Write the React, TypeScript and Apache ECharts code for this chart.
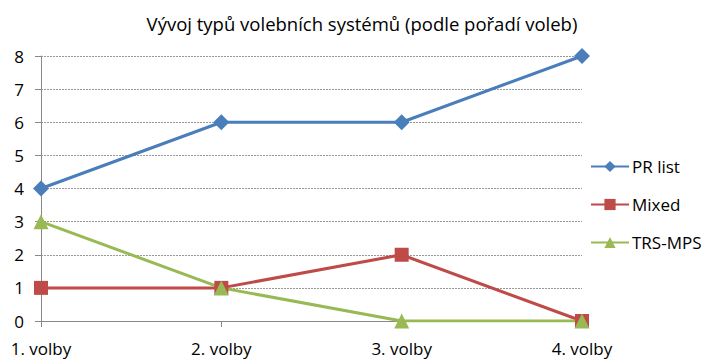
import React, { useEffect, useRef } from "react";
import * as echarts from "echarts";

const categories = ["1. volby", "2. volby", "3. volby", "4. volby"];
const prList = [4, 6, 6, 8];
const mixed = [1, 1, 2, 0];
const trsMps = [3, 1, 0, 0];
const yTicks = [0, 1, 2, 3, 4, 5, 6, 7, 8];

const FONT = "'Open Sans', 'Noto Sans', sans-serif";

export default function App() {
  const ref = useRef<HTMLDivElement>(null);
  useEffect(() => {
    if (!ref.current) return;
    const chart = echarts.init(ref.current, null, { renderer: "svg" });
    chart.setOption({
      animation: false,
      backgroundColor: "#ffffff",
      title: {
        text: "Vývoj typů volebních systémů (podle pořadí voleb)",
        left: 357,
        top: 9,
        textAlign: "center",
        textStyle: { fontFamily: FONT, fontSize: 18.5, fontWeight: "normal", color: "#000" },
      },
      legend: {
        orient: "vertical",
        left: 585,
        top: 153,
        itemGap: 21,
        itemWidth: 38,
        itemHeight: 14,
        textStyle: { fontFamily: FONT, fontSize: 17, color: "#000", padding: [0, 0, 0, -2] },
        data: ["PR list", "Mixed", "TRS-MPS"],
      },
      grid: { left: 41, right: 134, top: 56, bottom: 43 },
      xAxis: {
        type: "category",
        data: categories,
        boundaryGap: false,
        axisLine: { lineStyle: { color: "#888", width: 1 } },
        axisTick: { show: true, alignWithLabel: true, length: 6, lineStyle: { color: "#888" } },
        axisLabel: { fontFamily: FONT, fontSize: 17, color: "#000", margin: 19 },
      },
      yAxis: {
        type: "value",
        min: yTicks[0],
        max: yTicks[yTicks.length - 1],
        interval: 1,
        axisLine: { show: true, lineStyle: { color: "#888", width: 1 } },
        axisTick: { show: true, length: 6, lineStyle: { color: "#888" } },
        axisLabel: { fontFamily: FONT, fontSize: 17, color: "#000", margin: 17 },
        splitLine: { show: true, lineStyle: { color: "#999", type: [2, 1], width: 1 } },
      },
      series: [
        {
          name: "PR list",
          type: "line",
          data: prList,
          symbol: "diamond",
          symbolSize: 16,
          color: "#4A7EBB",
          lineStyle: { width: 3, color: "#4A7EBB" },
          itemStyle: { color: "#4A7EBB" },
        },
        {
          name: "Mixed",
          type: "line",
          data: mixed,
          symbol: "rect",
          symbolSize: 14,
          color: "#BE4B48",
          lineStyle: { width: 3, color: "#BE4B48" },
          itemStyle: { color: "#BE4B48" },
        },
        {
          name: "TRS-MPS",
          type: "line",
          data: trsMps,
          symbol: "triangle",
          symbolSize: 15,
          color: "#98B954",
          lineStyle: { width: 3, color: "#98B954" },
          itemStyle: { color: "#98B954" },
        },
      ],
    });
    return () => chart.dispose();
  }, []);
  return <div ref={ref} style={{ width: 716, height: 364, position: "absolute", left: 0, top: 0 }} />;
}
